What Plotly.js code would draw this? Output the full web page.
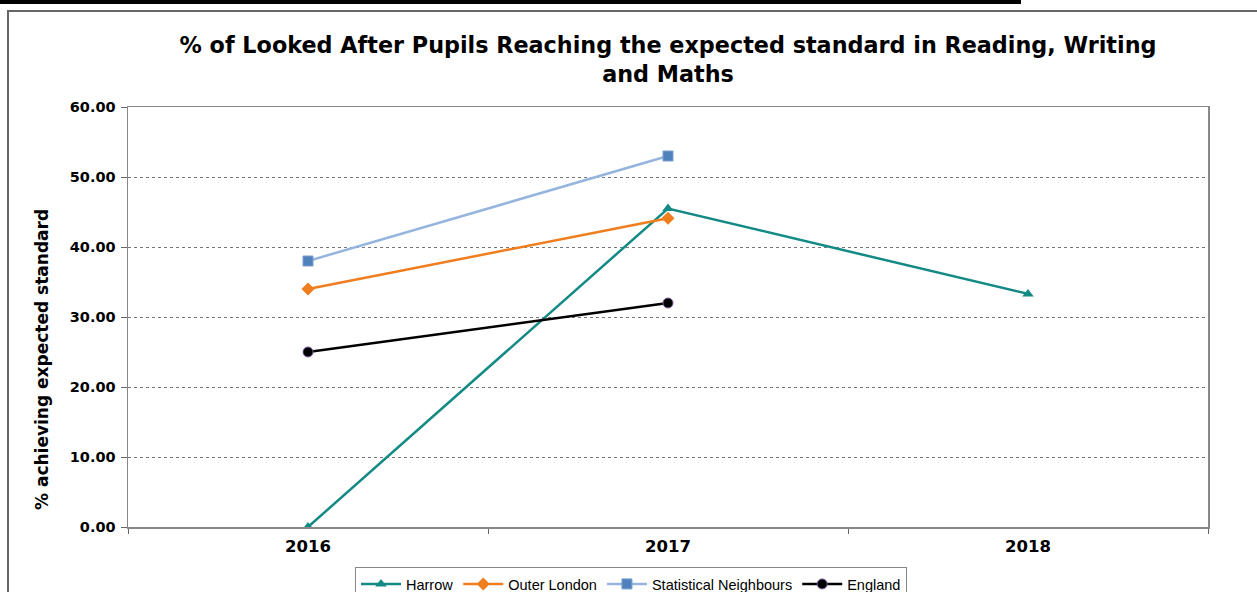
<!DOCTYPE html>
<html>
<head>
<meta charset="utf-8">
<script src="https://cdn.plot.ly/plotly-3.0.1.min.js"></script>
<style>
  html, body { margin: 0; padding: 0; background: #fff; overflow: hidden; }
  #topbar { position: absolute; left: 0; top: 0; width: 1021px; height: 4px; background: #000; }
  #frame { position: absolute; left: 7px; top: 10px; width: 1270px; height: 620px; border: 2px solid #666; box-sizing: border-box; }
  #chart { position: absolute; left: 0; top: 0; width: 1257px; height: 592px; }
</style>
</head>
<body>
<div id="topbar"></div>
<div id="frame"></div>
<div id="chart"></div>
<script>
const years = ['2016', '2017', '2018'];
const harrow = [0, 45.5, 33.3];
const outerLondon = [34, 44.1, null];
const statNeighbours = [38, 53, null];
const england = [25, 32, null];
const yTicks = [0, 10, 20, 30, 40, 50, 60];

const traces = [
  { name: 'Harrow', x: years, y: harrow, mode: 'lines+markers',
    line: { color: '#138a84', width: 2.5 },
    marker: { symbol: 'triangle-up', size: 10, color: '#138a84' } },
  { name: 'Outer London', x: years, y: outerLondon, mode: 'lines+markers',
    line: { color: '#f07d1e', width: 2.5 },
    marker: { symbol: 'diamond', size: 10, color: '#f07d1e' } },
  { name: 'Statistical Neighbours', x: years, y: statNeighbours, mode: 'lines+markers',
    line: { color: '#96b5de', width: 2.5 },
    marker: { symbol: 'square', size: 10, color: '#4f81bd', line: { color: '#7a9fd0', width: 1 } } },
  { name: 'England', x: years, y: england, mode: 'lines+markers',
    line: { color: '#000000', width: 2.5 },
    marker: { symbol: 'circle', size: 10, color: '#000000', line: { color: '#7a5a9a', width: 1 } } }
];

const layout = {
  width: 1257, height: 592,
  margin: { l: 128, r: 49, t: 107, b: 65, autoexpand: false },
  paper_bgcolor: 'rgba(0,0,0,0)',
  plot_bgcolor: '#ffffff',
  font: { family: 'DejaVu Sans, Verdana, sans-serif', color: '#000' },
  title: {
    text: '<b>% of Looked After Pupils Reaching the expected standard in Reading, Writing<br>and Maths</b>',
    font: { family: 'DejaVu Sans', size: 22.3, color: '#000' },
    x: 0.5, xref: 'paper', xanchor: 'center',
    y: 1 - 53 / 592, yref: 'container', yanchor: 'top'
  },
  xaxis: {
    type: 'category',
    range: [-0.5, 2.5],
    tickson: 'boundaries',
    ticks: 'outside', ticklen: 5, tickcolor: '#666', tickwidth: 1,
    showline: true, linecolor: '#888', linewidth: 1.5, mirror: true,
    showgrid: false,
    tickfont: { family: 'DejaVu Sans', size: 16.5, color: '#000', weight: 'bold' },
    ticklabelstandoff: 4
  },
  yaxis: {
    range: [0, 60],
    tickvals: yTicks,
    tickformat: '.2f',
    ticks: 'outside', ticklen: 6, tickcolor: '#666', tickwidth: 1,
    showline: true, linecolor: '#888', linewidth: 1.5, mirror: true,
    showgrid: true, gridcolor: '#777', gridwidth: 1, griddash: 'dot',
    zeroline: false,
    tickfont: { family: 'DejaVu Sans', size: 14.5, color: '#000', weight: 'bold' },
    ticklabelstandoff: 2
  },
  showlegend: true,
  legend: {
    orientation: 'h',
    x: (631 - 128) / 1080, xanchor: 'center',
    y: -40 / 420, yanchor: 'top',
    font: { family: 'Liberation Sans, Arial, sans-serif', size: 14.5, color: '#000' },
    bordercolor: '#888', borderwidth: 1,
    bgcolor: '#fff',
    itemwidth: 40, tracegroupgap: 0
  },
  annotations: [{
    text: '<b>% achieving expected standard</b>',
    xref: 'paper', yref: 'paper',
    x: -86 / 1080, y: (527 - 360) / 420,
    xanchor: 'center', yanchor: 'middle',
    textangle: -90, showarrow: false,
    font: { family: 'DejaVu Sans', size: 17, color: '#000' }
  }]
};

Plotly.newPlot('chart', traces, layout, { displayModeBar: false, staticPlot: true });
</script>
</body>
</html>
